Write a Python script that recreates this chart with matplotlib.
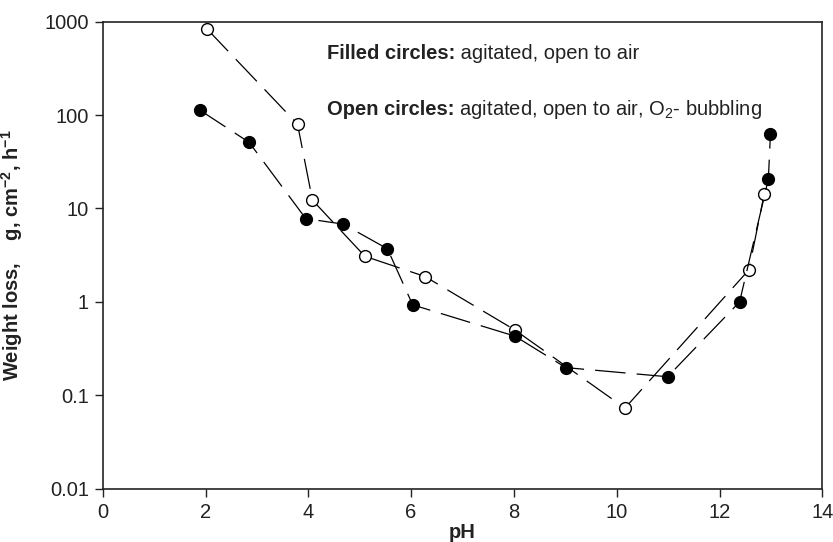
import matplotlib
matplotlib.use("Agg")
import matplotlib.pyplot as plt
import matplotlib.transforms as mtransforms
from matplotlib.ticker import FixedLocator, FixedFormatter, NullLocator

plt.rcParams['font.family'] = ['Liberation Sans', 'DejaVu Sans']
plt.rcParams['mathtext.fontset'] = 'custom'
plt.rcParams['mathtext.rm'] = 'Liberation Sans'
plt.rcParams['mathtext.it'] = 'Liberation Sans:italic'
plt.rcParams['mathtext.bf'] = 'Liberation Sans:bold'
plt.rcParams['lines.scale_dashes'] = False

# Filled circles: agitated, open to air
ph_filled = [1.89, 2.85, 3.95, 4.68, 5.54, 6.03, 8.02, 9.01, 10.99, 12.39, 12.95, 12.99]
wl_filled = [113, 51, 7.8, 6.8, 3.7, 0.93, 0.43, 0.198, 0.158, 1.0, 20.7, 62]

# Open circles: agitated, open to air, O2 bubbling
ph_open = [2.03, 3.79, 4.08, 5.10, 6.27, 8.02, 10.16, 12.57, 12.87]
wl_open = [835, 80, 12.3, 3.08, 1.87, 0.50, 0.073, 2.2, 14.3]

x_ticks = [0, 2, 4, 6, 8, 10, 12, 14]
y_ticks = [0.01, 0.1, 1, 10, 100, 1000]
y_tick_labels = ["0.01", "0.1", "1", "10", "100", "1000"]

TXT = '#222222'
FS = 14.5
fig = plt.figure(figsize=(8.33, 5.42), dpi=100)
ax = fig.add_axes([0.1233, 0.0983, 0.8639, 0.8617])

dash = (0, (22, 8))
ax.plot(ph_open, wl_open, color='black', lw=0.9, linestyle=dash,
        marker='o', markersize=8.5, markerfacecolor='white',
        markeredgecolor='black', markeredgewidth=1.0, zorder=3)
ax.plot(ph_filled, wl_filled, color='black', lw=0.9, linestyle=dash,
        marker='o', markersize=8.5, markerfacecolor='black',
        markeredgecolor='black', markeredgewidth=1.0, zorder=4)

ax.set_yscale('log')
ax.set_xlim(0, 14)
ax.set_ylim(0.01, 1000)
ax.xaxis.set_major_locator(FixedLocator(x_ticks))
ax.yaxis.set_major_locator(FixedLocator(y_ticks))
ax.yaxis.set_major_formatter(FixedFormatter(y_tick_labels))
ax.yaxis.set_minor_locator(NullLocator())
ax.xaxis.set_minor_locator(NullLocator())

ax.tick_params(axis='both', which='major', direction='out', length=6,
               width=1.0, labelsize=FS, colors=TXT, pad=4)
ax.tick_params(top=False, right=False)
for s in ax.spines.values():
    s.set_linewidth(1.2)
    s.set_color(TXT)

ax.set_xlabel('pH', fontsize=FS, fontweight='bold', labelpad=1, color=TXT)
ax.set_ylabel(r'Weight loss,    g, cm$^{\mathbf{-2}}$, h$^{\mathbf{-1}}$',
              fontsize=FS, fontweight='bold', labelpad=14, color=TXT)

trans = ax.get_xaxis_transform()
renderer = fig.canvas.get_renderer()

def two_part(x, y, bold, normal):
    t = ax.text(x, y, bold, fontweight='bold', transform=trans, fontsize=FS,
                va='baseline', ha='left', color=TXT)
    w = t.get_window_extent(renderer=renderer).width
    off = mtransforms.offset_copy(trans, fig=fig, x=w, y=0, units='dots')
    ax.text(x, y, normal, transform=off, fontsize=FS, va='baseline',
            ha='left', color=TXT)

two_part(4.36, 0.9195, 'Filled circles:', ' agitated, open to air')
two_part(4.36, 0.80, 'Open circles:', r' agitated, open to air, O$_2$- bubbling')

fig.savefig('out.png', dpi=100)
